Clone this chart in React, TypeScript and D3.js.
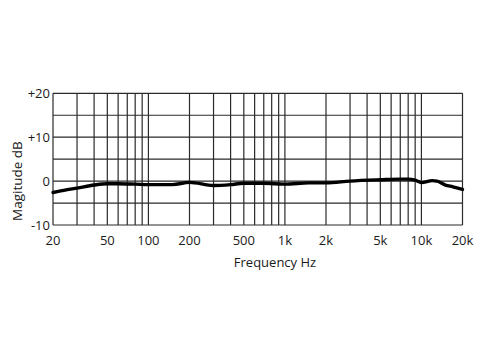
import React from "react";
import * as d3 from "d3";

// frequency response
const FREQS = [20, 25, 30, 40, 50, 60, 80, 100, 150, 200, 300, 400, 500, 700, 1000, 1500, 2000, 3000, 5000, 7000, 8000, 9000, 10000, 12000, 13000, 15000, 17000, 20000];
const DB = [-2.6, -2.0, -1.6, -0.9, -0.6, -0.6, -0.7, -0.8, -0.8, -0.3, -1.0, -0.8, -0.5, -0.5, -0.7, -0.4, -0.4, 0.0, 0.3, 0.45, 0.45, 0.2, -0.35, 0.1, 0.0, -0.9, -1.3, -1.9];

const X_TICKS = [20, 50, 100, 200, 500, 1000, 2000, 5000, 10000, 20000];
const X_TICK_LABELS = ["20", "50", "100", "200", "500", "1k", "2k", "5k", "10k", "20k"];
const Y_TICKS = [20, 10, 0, -10];
const Y_TICK_LABELS = ["+20", "+10", "0", "-10"];
const Y_GRID = [-10, -5, 0, 5, 10, 15, 20];
const X_GRID = [20, 30, 40, 50, 60, 70, 80, 90, 100, 200, 300, 400, 500, 600, 700, 800, 900, 1000, 2000, 3000, 4000, 5000, 6000, 7000, 8000, 9000, 10000, 20000];

const WIDTH = 488;
const HEIGHT = 354;
const LEFT = 53;
const RIGHT = 462.5;
const TOP = 93.3;
const BOTTOM = 225;
const FONT = "'Open Sans', 'Noto Sans', sans-serif";

export default function App() {
	const x = d3.scaleLog().domain([20, 20000]).range([LEFT, RIGHT]);
	const y = d3.scaleLinear().domain([-10, 20]).range([BOTTOM, TOP]);

	const points: [number, number][] = FREQS.map((f, i) => [f, DB[i]]);
	const line = d3
		.line<[number, number]>()
		.x((d) => x(d[0]))
		.y((d) => y(d[1]))
		.curve(d3.curveMonotoneX);

	return (
		<svg
			width={WIDTH}
			height={HEIGHT}
			style={{ position: "absolute", left: 0, top: 0, background: "#fff" }}
		>
			{Y_GRID.map((v) => (
				<line key={"h" + v} x1={LEFT} x2={RIGHT} y1={y(v)} y2={y(v)} stroke="#2a2a2a" strokeWidth={1.2} />
			))}
			{X_GRID.map((f) => (
				<line key={"v" + f} x1={x(f)} x2={x(f)} y1={TOP} y2={BOTTOM} stroke="#2a2a2a" strokeWidth={1.2} />
			))}
			<path d={line(points) || ""} fill="none" stroke="#000" strokeWidth={3.4} strokeLinejoin="round" strokeLinecap="round" />

			<g fontFamily={FONT} fontSize={13} fill="#1a1a1a">
				{Y_TICKS.map((v, i) => (
					<text key={"yt" + v} x={LEFT - 3} y={y(v)} dy="0.35em" textAnchor="end">
						{Y_TICK_LABELS[i]}
					</text>
				))}
				{X_TICKS.map((f, i) => (
					<text key={"xt" + f} x={x(f)} y={BOTTOM + 20} textAnchor="middle">
						{X_TICK_LABELS[i]}
					</text>
				))}
				<text x={275} y={BOTTOM + 42} textAnchor="middle">
					Frequency Hz
				</text>
				<text transform={`translate(22, ${y(0)}) rotate(-90)`} textAnchor="middle" fontSize={13.5}>
					Magitude dB
				</text>
			</g>
		</svg>
	);
}
